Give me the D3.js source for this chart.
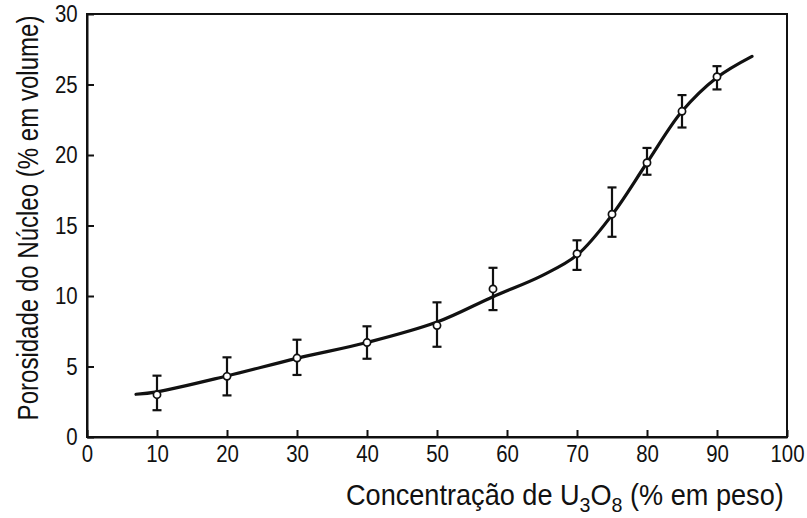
<!DOCTYPE html>
<html>
<head>
<meta charset="utf-8">
<script src="https://cdn.jsdelivr.net/npm/d3@7"></script>
<style>
  body { margin: 0; background: #fff; }
  svg text { font-family: "Liberation Sans", Arial, Helvetica, sans-serif; fill: #111; }
</style>
</head>
<body>
<svg id="chart" width="807" height="518"></svg>
<script>
// Measured points: U3O8 concentration (wt %) vs core porosity (vol %)
const concentration = [10, 20, 30, 40, 50, 58, 70, 75, 80, 85, 90];
const porosity      = [3.0, 4.3, 5.6, 6.7, 7.9, 10.5, 13.0, 15.8, 19.45, 23.1, 25.55];
const porosityLow   = [1.9, 2.95, 4.4, 5.55, 6.4, 9.0, 11.85, 14.2, 18.6, 21.95, 24.65];
const porosityHigh  = [4.35, 5.65, 6.9, 7.85, 9.55, 12.0, 13.95, 17.7, 20.5, 24.25, 26.3];

// Smoothed trend through the measurements
const fitConcentration = [7, 10, 20, 30, 40, 50, 58, 65, 70, 75, 80, 85, 90, 95];
const fitPorosity      = [3.03, 3.2, 4.33, 5.58, 6.7, 8.15, 9.95, 11.45, 12.9, 15.75, 19.45, 23.1, 25.5, 27.0];

const xTicks = [0, 10, 20, 30, 40, 50, 60, 70, 80, 90, 100];
const yTicks = [0, 5, 10, 15, 20, 25, 30];

const xTitle = ["Concentração de U", "3", "O", "8", " (% em peso)"];
const yTitle = "Porosidade do Núcleo (% em volume)";

const svg = d3.select("#chart");
const plot = { left: 87, right: 787, top: 14, bottom: 437 };

const x = d3.scaleLinear().domain([0, 100]).range([plot.left, plot.right]);
const y = d3.scaleLinear().domain([0, 30]).range([plot.bottom, plot.top]);

// Frame
svg.append("rect")
  .attr("x", plot.left).attr("y", plot.top)
  .attr("width", plot.right - plot.left).attr("height", plot.bottom - plot.top)
  .attr("fill", "none").attr("stroke", "#111").attr("stroke-width", 2);

// Axes with inward ticks
const gx = svg.append("g")
  .attr("transform", `translate(0,${plot.bottom})`)
  .call(d3.axisBottom(x).tickValues(xTicks).tickSizeInner(-7).tickSizeOuter(0).tickPadding(8));
const gy = svg.append("g")
  .attr("transform", `translate(${plot.left},0)`)
  .call(d3.axisLeft(y).tickValues(yTicks).tickSizeInner(-7).tickSizeOuter(0).tickPadding(11));

[gx, gy].forEach(g => {
  g.select(".domain").attr("stroke", "#111").attr("stroke-width", 2);
  g.selectAll(".tick line").attr("stroke", "#111").attr("stroke-width", 2);
  g.selectAll(".tick text").attr("font-size", 24).attr("fill", "#111")
    .style("font-family", "'Liberation Sans', Arial, sans-serif");
});
gx.selectAll(".tick text").attr("transform", "scale(0.85,1)");
gy.selectAll(".tick text").attr("transform", "scale(0.85,1)");

// Trend curve
const line = d3.line()
  .x(d => x(d[0])).y(d => y(d[1]))
  .curve(d3.curveCatmullRom.alpha(0.5));
svg.append("path")
  .datum(d3.zip(fitConcentration, fitPorosity))
  .attr("d", line)
  .attr("fill", "none").attr("stroke", "#111").attr("stroke-width", 3.2)
  .attr("stroke-linecap", "round");

// Error bars and markers
const pts = concentration.map((c, i) => ({ c, p: porosity[i], lo: porosityLow[i], hi: porosityHigh[i] }));
const capHalf = 4.5;
const eb = svg.append("g").attr("stroke", "#111").attr("stroke-width", 2.2);
eb.selectAll("line.stem").data(pts).join("line")
  .attr("x1", d => x(d.c)).attr("x2", d => x(d.c))
  .attr("y1", d => y(d.lo)).attr("y2", d => y(d.hi));
eb.selectAll("line.top").data(pts).join("line")
  .attr("x1", d => x(d.c) - capHalf).attr("x2", d => x(d.c) + capHalf)
  .attr("y1", d => y(d.hi)).attr("y2", d => y(d.hi));
eb.selectAll("line.bot").data(pts).join("line")
  .attr("x1", d => x(d.c) - capHalf).attr("x2", d => x(d.c) + capHalf)
  .attr("y1", d => y(d.lo)).attr("y2", d => y(d.lo));

svg.append("g").selectAll("circle").data(pts).join("circle")
  .attr("cx", d => x(d.c)).attr("cy", d => y(d.p)).attr("r", 3.6)
  .attr("fill", "#fff").attr("stroke", "#111").attr("stroke-width", 1.7);

// Axis titles, narrowed to the available width
function fitWidth(sel, width) {
  const w = sel.node().getComputedTextLength();
  return width / w;
}

const xt = svg.append("text").attr("font-size", 29).attr("x", 0).attr("y", 0);
xTitle.forEach((s, i) => {
  const sub = i === 1 || i === 3;
  const t = xt.append("tspan").text(s);
  if (sub) t.attr("font-size", 21).attr("dy", 7);
  else if (i === 2 || i === 4) t.attr("dy", -7);
});
const xs = fitWidth(xt, 438);
xt.attr("transform", `translate(346,505) scale(${xs},1)`);

const yt = svg.append("text").attr("font-size", 29).attr("text-anchor", "middle").text(yTitle);
const ys = fitWidth(yt, 405);
yt.attr("transform", `translate(38,218) rotate(-90) scale(${ys},1)`);
</script>
</body>
</html>
